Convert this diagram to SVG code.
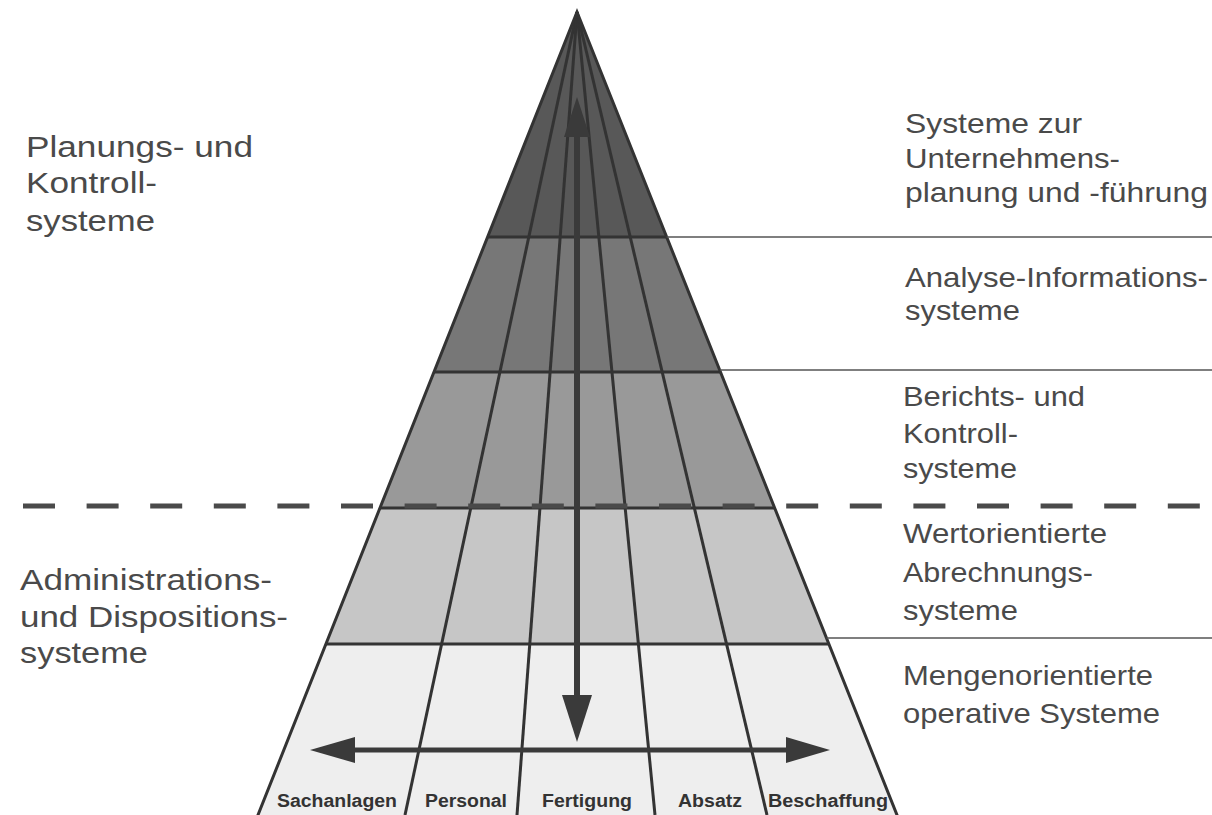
<svg xmlns="http://www.w3.org/2000/svg" width="1212" height="815" viewBox="0 0 1212 815">
  <defs>
    <style>
      .band { stroke: none; }
      .edge { fill: none; stroke: #333; stroke-width: 3; stroke-linejoin: miter; }
      .grid { stroke: #333; stroke-width: 3; fill: none; }
      .leader { stroke: #555; stroke-width: 1.6; fill: none; }
      .dash { stroke: #4a4a4a; stroke-width: 5; stroke-dasharray: 32 31.6; fill: none; }
      .shaft { stroke: #3a3a3a; fill: none; }
      .head { fill: #3a3a3a; stroke: none; }
      .lbl { font-family: "Liberation Sans", Arial, Helvetica, sans-serif; fill: #4a4a4a; }
      .lbl-l { font-size: 30px; }
      .lbl-r { font-size: 28px; }
      .col { font-family: "Liberation Sans", Arial, Helvetica, sans-serif; font-weight: bold; font-size: 18px; fill: #333; }
    </style>
  </defs>

  <rect width="1212" height="815" fill="#ffffff"/>

  <!-- pyramid layers, darkest at the apex -->
  <g id="layer-unternehmensplanung">
    <polygon class="band" points="577,12 666.7,237 487.6,237" fill="#585858"/>
    <text class="lbl lbl-r" x="905" y="133" textLength="177" lengthAdjust="spacingAndGlyphs">Systeme zur</text>
    <text class="lbl lbl-r" x="905" y="168" textLength="215" lengthAdjust="spacingAndGlyphs">Unternehmens-</text>
    <text class="lbl lbl-r" x="905" y="202" textLength="303" lengthAdjust="spacingAndGlyphs">planung und -führung</text>
  </g>

  <g id="layer-analyse">
    <polygon class="band" points="487.6,237 666.7,237 720.5,372 434,372" fill="#777777"/>
    <text class="lbl lbl-r" x="905" y="287" textLength="303" lengthAdjust="spacingAndGlyphs">Analyse-Informations-</text>
    <text class="lbl lbl-r" x="905" y="320" textLength="115" lengthAdjust="spacingAndGlyphs">systeme</text>
  </g>

  <g id="layer-berichte">
    <polygon class="band" points="434,372 720.5,372 774.7,508 380,508" fill="#999999"/>
    <text class="lbl lbl-r" x="903" y="406" textLength="182" lengthAdjust="spacingAndGlyphs">Berichts- und</text>
    <text class="lbl lbl-r" x="903" y="443" textLength="115" lengthAdjust="spacingAndGlyphs">Kontroll-</text>
    <text class="lbl lbl-r" x="903" y="478" textLength="114" lengthAdjust="spacingAndGlyphs">systeme</text>
  </g>

  <g id="layer-abrechnung">
    <polygon class="band" points="380,508 774.7,508 828.9,644 325.9,644" fill="#c6c6c6"/>
    <text class="lbl lbl-r" x="903" y="543" textLength="204" lengthAdjust="spacingAndGlyphs">Wertorientierte</text>
    <text class="lbl lbl-r" x="903" y="582" textLength="190" lengthAdjust="spacingAndGlyphs">Abrechnungs-</text>
    <text class="lbl lbl-r" x="903" y="620" textLength="115" lengthAdjust="spacingAndGlyphs">systeme</text>
  </g>

  <g id="layer-operativ">
    <polygon class="band" points="325.9,644 828.9,644 899,820 256,820" fill="#eeeeee"/>
    <text class="lbl lbl-r" x="903" y="685" textLength="250" lengthAdjust="spacingAndGlyphs">Mengenorientierte</text>
    <text class="lbl lbl-r" x="903" y="723" textLength="257" lengthAdjust="spacingAndGlyphs">operative Systeme</text>
  </g>

  <!-- grid: column rays to the apex, layer boundaries, outline -->
  <g id="grid">
    <line class="grid" x1="577" y1="12" x2="405" y2="815"/>
    <line class="grid" x1="577" y1="12" x2="517" y2="815"/>
    <line class="grid" x1="577" y1="12" x2="655" y2="815"/>
    <line class="grid" x1="577" y1="12" x2="767" y2="815"/>
    <line class="grid" x1="487.6" y1="237" x2="666.7" y2="237"/>
    <line class="grid" x1="434" y1="372" x2="720.5" y2="372"/>
    <line class="grid" x1="380" y1="508" x2="774.7" y2="508"/>
    <line class="grid" x1="325.9" y1="644" x2="828.9" y2="644"/>
    <polyline class="edge" points="256,820 577,12 899,820"/>
  </g>

  <!-- left-hand group labels -->
  <g id="group-planung">
    <text class="lbl lbl-l" x="26" y="157" textLength="227" lengthAdjust="spacingAndGlyphs">Planungs- und</text>
    <text class="lbl lbl-l" x="26" y="193" textLength="131" lengthAdjust="spacingAndGlyphs">Kontroll-</text>
    <text class="lbl lbl-l" x="26" y="231" textLength="129" lengthAdjust="spacingAndGlyphs">systeme</text>
  </g>
  <g id="group-administration">
    <text class="lbl lbl-l" x="20" y="590" textLength="252" lengthAdjust="spacingAndGlyphs">Administrations-</text>
    <text class="lbl lbl-l" x="20" y="627" textLength="268" lengthAdjust="spacingAndGlyphs">und Dispositions-</text>
    <text class="lbl lbl-l" x="20" y="663" textLength="128" lengthAdjust="spacingAndGlyphs">systeme</text>
  </g>

  <!-- functional areas along the base -->
  <g id="columns">
    <text class="col" x="277" y="807" textLength="120" lengthAdjust="spacingAndGlyphs">Sachanlagen</text>
    <text class="col" x="425" y="807" textLength="82" lengthAdjust="spacingAndGlyphs">Personal</text>
    <text class="col" x="542" y="807" textLength="90" lengthAdjust="spacingAndGlyphs">Fertigung</text>
    <text class="col" x="678" y="807" textLength="64" lengthAdjust="spacingAndGlyphs">Absatz</text>
    <text class="col" x="768" y="807" textLength="120" lengthAdjust="spacingAndGlyphs">Beschaffung</text>
  </g>

  <!-- connectors: leader lines, divider, arrows -->
  <g id="connectors">
    <line class="leader" x1="666.7" y1="237" x2="1212" y2="237"/>
    <line class="leader" x1="720" y1="370" x2="1212" y2="370"/>
    <line class="leader" x1="826.5" y1="638" x2="1212" y2="638"/>
    <line class="dash" x1="23" y1="506" x2="1212" y2="506"/>

    <line class="shaft" x1="577" y1="130" x2="577" y2="700" stroke-width="6"/>
    <polygon class="head" points="577,97 564,137 590,137"/>
    <polygon class="head" points="577,742 562,695 592,695"/>

    <line class="shaft" x1="350" y1="750" x2="790" y2="750" stroke-width="5"/>
    <polygon class="head" points="310,750 355,737 355,763"/>
    <polygon class="head" points="830,750 786,737 786,763"/>
  </g>
</svg>
